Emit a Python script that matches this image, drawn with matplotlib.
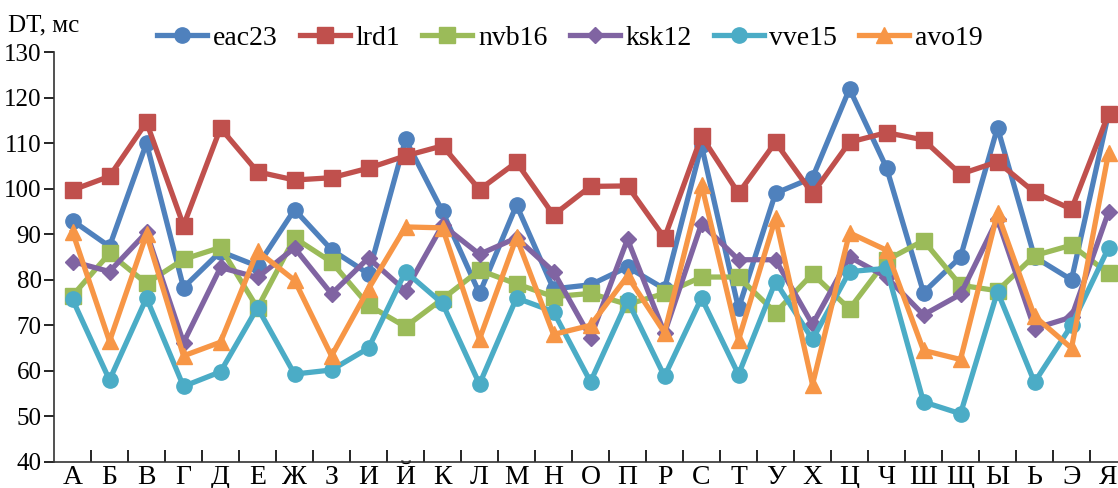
import matplotlib
matplotlib.use("Agg")
import matplotlib.pyplot as plt
import numpy as np

categories = ["А", "Б", "В", "Г", "Д", "Е", "Ж", "З", "И", "Й", "К", "Л", "М", "Н", "О",
              "П", "Р", "С", "Т", "У", "Х", "Ц", "Ч", "Ш", "Щ", "Ы", "Ь", "Э", "Я"]

eac23 = [93.0, 87.3, 110.0, 78.3, 86.2, 83.0, 95.4, 86.6, 81.3, 110.8, 95.0, 77.0, 96.4, 78.0, 78.9,
         82.8, 78.0, 109.5, 73.7, 99.0, 102.4, 121.9, 104.6, 77.2, 85.0, 113.4, 85.0, 80.0, 116.5]
lrd1 = [99.7, 102.7, 114.6, 91.9, 113.3, 103.7, 101.9, 102.4, 104.5, 107.2, 109.4, 99.8, 105.8, 94.2, 100.5,
        100.6, 89.2, 111.5, 99.0, 110.2, 98.9, 110.2, 112.3, 110.7, 103.2, 105.9, 99.2, 95.5, 116.4]
nvb16 = [76.5, 85.8, 79.2, 84.5, 87.1, 73.8, 89.2, 83.9, 74.4, 69.7, 75.8, 82.1, 79.1, 76.3, 77.0,
         74.6, 77.0, 80.6, 80.6, 72.8, 81.3, 73.6, 84.3, 88.6, 78.8, 77.6, 85.3, 87.6, 81.4]
ksk12 = [84.0, 81.8, 90.4, 66.2, 82.7, 80.5, 87.0, 76.9, 84.8, 77.6, 92.0, 85.6, 89.2, 81.8, 67.3,
         88.9, 68.3, 92.3, 84.4, 84.4, 70.2, 85.0, 80.6, 72.3, 76.8, 93.3, 69.3, 71.8, 94.9]
vve15 = [75.7, 58.0, 76.0, 56.6, 59.8, 73.9, 59.3, 60.2, 65.0, 81.8, 74.8, 57.1, 76.0, 73.0, 57.6,
         75.5, 58.8, 76.0, 59.2, 79.6, 66.9, 81.8, 82.5, 53.2, 50.6, 77.4, 57.5, 70.0, 87.0]
avo19 = [90.5, 66.5, 90.0, 63.3, 66.3, 86.3, 79.9, 63.3, 78.0, 91.6, 91.4, 67.0, 89.3, 68.0, 70.0,
         80.8, 68.4, 100.9, 66.8, 93.5, 57.0, 90.3, 86.5, 64.5, 62.5, 94.6, 72.0, 65.0, 107.8]

series = [
    ("eac23", eac23, "#4F81BD", "o", 11),
    ("lrd1", lrd1, "#C0504D", "s", 11),
    ("nvb16", nvb16, "#9BBB59", "s", 11),
    ("ksk12", ksk12, "#8064A2", "D", 8),
    ("vve15", vve15, "#4BACC6", "o", 11),
    ("avo19", avo19, "#F79646", "^", 12),
]

plt.rcParams['font.family'] = ['Liberation Serif', 'DejaVu Serif']

fig = plt.figure(figsize=(11.18, 4.88), dpi=100)
ax = fig.add_axes([54 / 1118, 26 / 488, 1073 / 1118, 410 / 488])

x = np.arange(len(categories))
for name, vals, color, marker, ms in series:
    ax.plot(x, vals, color=color, marker=marker, markersize=ms, linewidth=3.8,
            markeredgecolor=color, label=name, clip_on=False, zorder=3)

ax.set_xlim(-0.5, len(categories) - 0.5)
ax.set_ylim(40, 130)
ax.set_yticks(np.arange(40, 131, 10))
ax.tick_params(axis='y', direction='out', length=7, width=1.2, labelsize=18, pad=2)
ax.set_xticks(x)
ax.set_xticklabels(categories)
ax.tick_params(axis='x', which='major', length=0, labelsize=20, pad=2)
ax.set_xticks(np.arange(0.5, len(categories) - 1, 1), minor=True)
ax.tick_params(axis='x', which='minor', direction='in', length=9, width=1.2)
for s in ['top', 'right']:
    ax.spines[s].set_visible(False)
for s in ['left', 'bottom']:
    ax.spines[s].set_linewidth(1.2)
    ax.spines[s].set_color('#333333')

fig.text(8 / 1118, 1 - 25 / 488, "DT, мс", fontsize=18, va='center', ha='left')

leg = fig.legend(loc='center', bbox_to_anchor=(570 / 1118, 1 - 38 / 488), ncol=6,
                 frameon=False, fontsize=20, handlelength=1.8, handletextpad=0.2,
                 columnspacing=0.8, borderaxespad=0, borderpad=0)

fig.savefig("out.png", dpi=100)
